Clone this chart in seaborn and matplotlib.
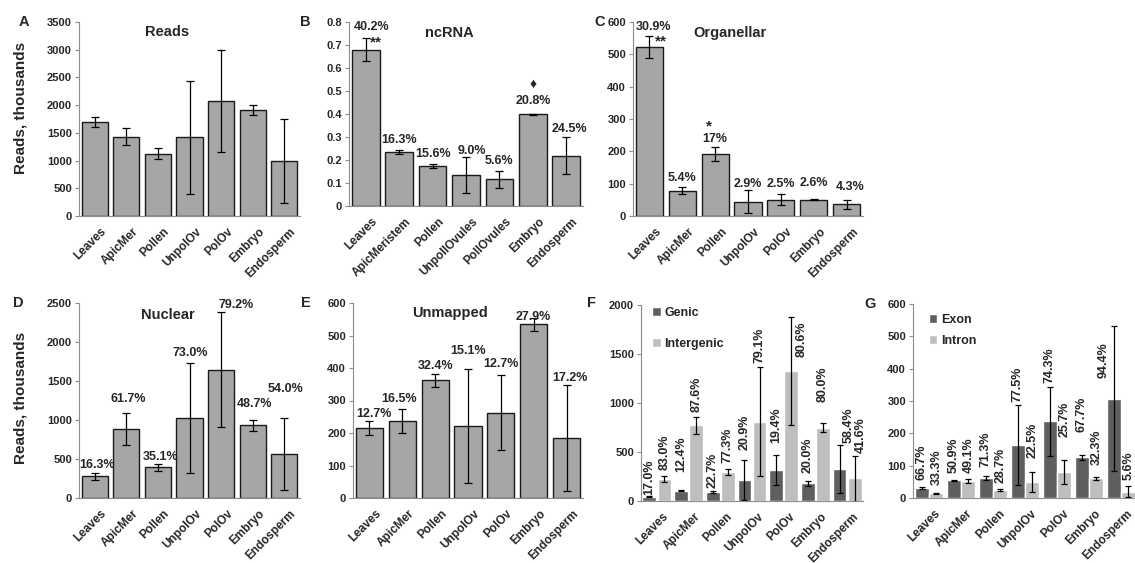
import matplotlib
matplotlib.use("Agg")
import matplotlib.pyplot as plt
import matplotlib.transforms as mtransforms
import numpy as np
import pandas as pd
import seaborn as sns

# categories
tissues = ["Leaves", "ApicMer", "Pollen", "UnpolOv", "PolOv", "Embryo", "Endosperm"]
tissues_nc = ["Leaves", "ApicMeristem", "Pollen", "UnpollOvules", "PollOvules", "Embryo", "Endosperm"]

# A: reads (thousands)
reads = [1700, 1430, 1120, 1420, 2075, 1915, 1000]
reads_err = [95, 150, 100, 1020, 925, 87, 757]

# B: ncRNA
ncrna = [0.68, 0.234, 0.175, 0.135, 0.116, 0.399, 0.219]
ncrna_err = [0.05, 0.008, 0.009, 0.078, 0.036, 0.003, 0.08]
ncrna_pct = ["40.2%", "16.3%", "15.6%", "9.0%", "5.6%", "20.8%", "24.5%"]
ncrna_label_y = [0.767, 0.274, 0.213, 0.228, 0.181, 0.445, 0.322]
ncrna_label_dx = [0.17, 0, 0, 0.18, 0, 0, 0.08]

# C: organellar
organellar = [522, 78, 191, 44, 51, 50, 36]
organellar_err = [34, 11, 21, 35, 17, 1.5, 13]
organellar_pct = ["30.9%", "5.4%", "17%", "2.9%", "2.5%", "2.6%", "4.3%"]
organellar_label_y = [574, 108, 229, 90, 90, 94, 80]
organellar_label_dx = [0.12, 0, 0, 0, 0, 0, 0.1]

# D: nuclear
nuclear = [280, 885, 395, 1025, 1645, 930, 560]
nuclear_err = [43, 200, 43, 710, 735, 65, 460]
nuclear_pct = ["16.3%", "61.7%", "35.1%", "73.0%", "79.2%", "48.7%", "54.0%"]
nuclear_label_y = [383, 1235, 490, 1819, 2440, 1171, 1359]
nuclear_label_dx = [0.07, 0.07, 0.07, 0.03, 0.47, 0.05, 0.05]

# E: unmapped
unmapped = [215, 237, 362, 222, 263, 535, 185]
unmapped_err = [21, 37, 21, 175, 115, 20, 163]
unmapped_pct = ["12.7%", "16.5%", "32.4%", "15.1%", "12.7%", "27.9%", "17.2%"]
unmapped_label_y = [248, 296, 396, 443, 402, 549, 361]
unmapped_label_dx = [0.13, -0.1, 0, 0, 0, 0, 0.1]

# F: genic / intergenic
genic = [44, 105, 88, 214, 316, 180, 326]
genic_err = [5, 7, 10, 202, 150, 25, 245]
genic_pct = ["17.0%", "12.4%", "22.7%", "20.9%", "19.4%", "20.0%", "58.4%"]
genic_label_y = [61, 299, 133, 520, 592, 286, 592]
genic_label_dx = [0, 0, 0, 0, 0, 0, 0.3]
intergenic = [224, 772, 299, 809, 1330, 748, 231]
intergenic_err = [32, 88, 32, 556, 551, 48, 228]
intergenic_pct = ["83.0%", "87.6%", "77.3%", "79.1%", "80.6%", "80.0%", "41.6%"]
intergenic_label_y = [316, 911, 387, 1408, 1472, 1013, 490]
intergenic_label_dx = [0, 0, 0, 0, 0.33, 0, 0.2]

# G: exon / intron
exon = [31, 55, 63, 165, 237, 126, 307]
exon_err = [3, 2, 6, 124, 106, 7, 224]
exon_pct = ["66.7%", "50.9%", "71.3%", "77.5%", "74.3%", "67.7%", "94.4%"]
exon_label_y = [56, 76, 97, 298, 355, 205, 371]
exon_label_dx = [0, 0, 0, 0, 0, 0, -0.31]
intron = [14, 53, 26, 49, 81, 61, 20]
intron_err = [3, 6, 3, 30, 37, 4, 16]
intron_pct = ["33.3%", "49.1%", "28.7%", "22.5%", "25.7%", "32.3%", "5.6%"]
intron_label_y = [40, 76, 45, 123, 190, 102, 56]
intron_label_dx = [0, 0, 0, 0, 0, 0, 0]

W, H = 1135, 563
GREY = "#A6A6A6"
DARK = "#5F5F5F"
LIGHT = "#BEBEBE"
AXIS = "#8C8C8C"

sns.set_theme(style="white")
plt.rcParams["font.family"] = ["Liberation Sans", "DejaVu Sans"]
plt.rcParams["font.weight"] = "bold"


def add_axes(fig, left, top, right, bottom):
    return fig.add_axes([left / W, 1 - bottom / H, (right - left) / W, (bottom - top) / H])


def style_axis(ax, names, ymax, step):
    ax.set_xlim(-0.5, 6.5)
    ax.set_ylim(0, ymax)
    ticks = np.arange(0, ymax + step / 2, step)
    ax.set_yticks(ticks)
    ax.set_yticklabels([f"{round(t, 3):g}" for t in ticks], fontweight="bold", fontsize=8)
    ax.set_xticks(range(len(names)))
    ax.set_xticklabels(names, rotation=45, ha="right", va="top", rotation_mode="anchor",
                       fontweight="bold", fontsize=8.5)
    ax.set_xticks(np.arange(-0.5, len(names), 1), minor=True)
    ax.tick_params(axis="x", which="major", length=0, pad=7)
    ax.tick_params(axis="x", which="minor", length=4, color=AXIS, width=0.8)
    ax.tick_params(axis="y", length=3, color=AXIS, width=0.8, pad=2, left=True)
    for s in ["top", "right"]:
        ax.spines[s].set_visible(False)
    for s in ["left", "bottom"]:
        ax.spines[s].set_color(AXIS)
        ax.spines[s].set_linewidth(0.8)
    ax.set_xlabel("")
    ax.set_ylabel("")
    shift = mtransforms.ScaledTranslation(4 / 72, 0, ax.figure.dpi_scale_trans)
    for lab in ax.get_xticklabels():
        lab.set_transform(lab.get_transform() + shift)


def single_panel(ax, names, values, errs, title, tpos, ymax, step,
                 pct=None, label_y=None, label_dx=None):
    df = pd.DataFrame({"tissue": names, "value": values})
    sns.barplot(data=df, x="tissue", y="value", color=GREY, saturation=1, width=0.83,
                edgecolor="#1a1a1a", linewidth=1.0, errorbar=None, ax=ax)
    centers = [p.get_x() + p.get_width() / 2 for p in ax.containers[0]]
    ax.errorbar(centers, values, yerr=errs, fmt="none", ecolor="black",
                elinewidth=0.9, capsize=3, capthick=0.9)
    if pct is not None:
        for c, p, y, d in zip(centers, pct, label_y, label_dx):
            ax.text(c + d, y, p, ha="center", va="baseline", fontsize=9, fontweight="bold")
    ax.text(tpos[0], tpos[1], title, transform=ax.transAxes, ha="center", va="center",
            fontsize=10.5, fontweight="bold")
    style_axis(ax, names, ymax, step)


def pair_panel(ax, names, series, v1, e1, v2, e2, p1, p2, y1, y2, dx1, dx2,
               ymax, step, width, gap, leg_anchor, leg_spacing):
    df = pd.DataFrame({"tissue": names * 2,
                       "part": [series[0]] * len(names) + [series[1]] * len(names),
                       "value": v1 + v2})
    sns.barplot(data=df, x="tissue", y="value", hue="part", palette=[DARK, LIGHT],
                saturation=1, width=width, gap=gap, errorbar=None, legend=False, ax=ax)
    bars = list(ax.containers[:2])
    for cont, vals, errs, pcts, ys, dxs in zip(bars, [v1, v2], [e1, e2], [p1, p2], [y1, y2], [dx1, dx2]):
        centers = [p.get_x() + p.get_width() / 2 for p in cont]
        ax.errorbar(centers, vals, yerr=errs, fmt="none", ecolor="black",
                    elinewidth=0.9, capsize=2.5, capthick=0.9)
        for c, p, y, d in zip(centers, pcts, ys, dxs):
            ax.text(c + d, y, p, rotation=90, ha="center", va="bottom",
                    fontsize=9, fontweight="bold")
    ax.legend(bars, series, loc="upper left", bbox_to_anchor=leg_anchor, frameon=False,
              prop={"size": 9, "weight": "bold"}, handlelength=0.7, handleheight=0.7,
              handletextpad=0.3, labelspacing=leg_spacing, borderaxespad=0, borderpad=0)
    style_axis(ax, names, ymax, step)


fig = plt.figure(figsize=(W / 100, H / 100), dpi=100)

ax_a = add_axes(fig, 79, 22, 300, 216)
single_panel(ax_a, tissues, reads, reads_err, "Reads", (0.40, 0.95), 3500, 500)

ax_b = add_axes(fig, 349, 22, 583, 206)
single_panel(ax_b, tissues_nc, ncrna, ncrna_err, "ncRNA", (0.43, 0.94), 0.8, 0.1,
             ncrna_pct, ncrna_label_y, ncrna_label_dx)
ax_b.text(0.3, 0.71, "**", ha="center", va="center", fontsize=11)
ax_b.text(5, 0.532, "\u2666", ha="center", va="center", fontsize=10)

ax_c = add_axes(fig, 633, 22, 863, 216)
single_panel(ax_c, tissues, organellar, organellar_err, "Organellar", (0.42, 0.943), 600, 100,
             organellar_pct, organellar_label_y, organellar_label_dx)
ax_c.text(0.35, 540, "**", ha="center", va="center", fontsize=11)
ax_c.text(1.8, 278, "*", ha="center", va="center", fontsize=11)

ax_d = add_axes(fig, 79, 303, 300, 498)
single_panel(ax_d, tissues, nuclear, nuclear_err, "Nuclear", (0.40, 0.938), 2500, 500,
             nuclear_pct, nuclear_label_y, nuclear_label_dx)

ax_e = add_axes(fig, 353, 303, 583, 498)
single_panel(ax_e, tissues, unmapped, unmapped_err, "Unmapped", (0.42, 0.949), 600, 100,
             unmapped_pct, unmapped_label_y, unmapped_label_dx)

ax_f = add_axes(fig, 641, 305, 863, 501)
pair_panel(ax_f, tissues, ["Genic", "Intergenic"], genic, genic_err, intergenic, intergenic_err,
           genic_pct, intergenic_pct, genic_label_y, intergenic_label_y,
           genic_label_dx, intergenic_label_dx, 2000, 500, 0.96, 0.1, (0.05, 0.99), 1.5)

ax_g = add_axes(fig, 913, 304, 1137, 498)
pair_panel(ax_g, tissues, ["Exon", "Intron"], exon, exon_err, intron, intron_err,
           exon_pct, intron_pct, exon_label_y, intron_label_y,
           exon_label_dx, intron_label_dx, 600, 100, 0.92, 0.04, (0.07, 0.95), 0.75)

# y labels and panel letters
for yc in [108, 398]:
    fig.text(21 / W, 1 - yc / H, "Reads, thousands", rotation=90, ha="center", va="center",
             fontsize=11, fontweight="bold")
for letter, px, py in [("A", 24, 22), ("B", 305, 22), ("C", 600, 22), ("D", 18, 303),
                       ("E", 306, 303), ("F", 591, 303), ("G", 870, 304)]:
    fig.text(px / W, 1 - py / H, letter, ha="center", va="center", fontsize=10.5, fontweight="bold")

fig.savefig("out.png", dpi=100)
